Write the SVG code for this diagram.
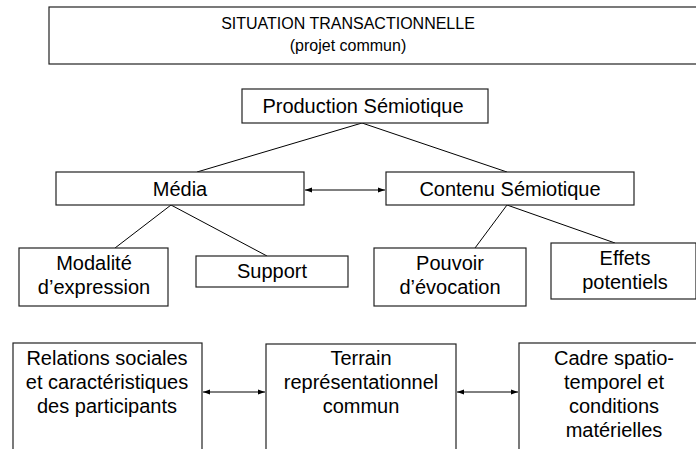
<svg xmlns="http://www.w3.org/2000/svg" width="696" height="449" viewBox="0 0 696 449">
<style>
.box{fill:#fff;stroke:#222;stroke-width:1.2}
.t{font-family:"Liberation Sans",Arial,sans-serif;font-size:20px;fill:#000;text-anchor:middle}
.h{font-size:16px}
.ln{stroke:#000;stroke-width:1;fill:none}
</style>
<defs>
<marker id="ah" viewBox="0 0 10 10" refX="10" refY="5" markerWidth="7" markerHeight="7" orient="auto-start-reverse" markerUnits="userSpaceOnUse">
<path d="M0,1.5 L10,5 L0,8.5 z" fill="#000"/>
</marker>
</defs>
<rect width="696" height="449" fill="#fff"/>
<g id="connectors">
<line class="ln" x1="362" y1="123" x2="197" y2="172"/>
<line class="ln" x1="362" y1="123" x2="507" y2="172"/>
<line class="ln" x1="171" y1="205" x2="115" y2="248"/>
<line class="ln" x1="171" y1="205" x2="267" y2="256"/>
<line class="ln" x1="507" y1="205" x2="475" y2="248"/>
<line class="ln" x1="507" y1="205" x2="615" y2="243"/>
<line class="ln" x1="305" y1="190" x2="385" y2="190" marker-start="url(#ah)" marker-end="url(#ah)"/>
<line class="ln" x1="203" y1="392" x2="265" y2="392" marker-start="url(#ah)" marker-end="url(#ah)"/>
<line class="ln" x1="457" y1="392" x2="518" y2="392" marker-start="url(#ah)" marker-end="url(#ah)"/>
</g>
<g id="situation">
<rect class="box" x="49" y="7" width="700" height="57"/>
<text class="t h" x="348" y="29">SITUATION TRANSACTIONNELLE</text>
<text class="t h" x="348" y="51">(projet commun)</text>
</g>
<g id="production">
<rect class="box" x="242" y="89" width="246" height="34"/>
<text class="t" x="363" y="113">Production Sémiotique</text>
</g>
<g id="media">
<rect class="box" x="56" y="172" width="248" height="33"/>
<text class="t" x="180" y="196">Média</text>
</g>
<g id="contenu">
<rect class="box" x="386" y="172" width="248" height="33"/>
<text class="t" x="510" y="196">Contenu Sémiotique</text>
</g>
<g id="modalite">
<rect class="box" x="19" y="248" width="149" height="58"/>
<text class="t" x="94" y="270">Modalité</text>
<text class="t" x="94" y="294">d’expression</text>
</g>
<g id="support">
<rect class="box" x="196" y="256" width="152" height="31"/>
<text class="t" x="272" y="278">Support</text>
</g>
<g id="pouvoir">
<rect class="box" x="374" y="248" width="152" height="58"/>
<text class="t" x="450" y="270">Pouvoir</text>
<text class="t" x="450" y="294">d’évocation</text>
</g>
<g id="effets">
<rect class="box" x="551" y="243" width="145" height="56"/>
<text class="t" x="625" y="265">Effets</text>
<text class="t" x="625" y="289">potentiels</text>
</g>
<g id="relations">
<rect class="box" x="13" y="343" width="189" height="120"/>
<text class="t" x="107" y="365">Relations sociales</text>
<text class="t" x="107" y="389">et caractéristiques</text>
<text class="t" x="107" y="413">des participants</text>
</g>
<g id="terrain">
<rect class="box" x="266" y="344" width="190" height="120"/>
<text class="t" x="361" y="365">Terrain</text>
<text class="t" x="361" y="389">représentationnel</text>
<text class="t" x="361" y="413">commun</text>
</g>
<g id="cadre">
<rect class="box" x="519" y="343" width="190" height="120"/>
<text class="t" x="614" y="365">Cadre spatio-</text>
<text class="t" x="614" y="389">temporel et</text>
<text class="t" x="614" y="413">conditions</text>
<text class="t" x="614" y="437">matérielles</text>
</g>
</svg>
